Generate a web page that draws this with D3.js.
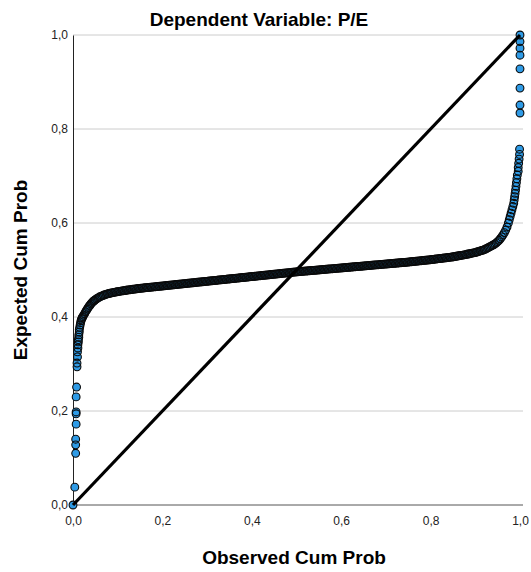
<!DOCTYPE html>
<html>
<head>
<meta charset="utf-8">
<script src="https://cdn.jsdelivr.net/npm/d3@7"></script>
<style>
  body { margin: 0; background: #fff; }
  svg { display: block; font-family: "Liberation Sans", Arial, sans-serif; }
</style>
</head>
<body>
<div id="chart"></div>
<script>
// Normal P-P plot of regression standardized residual
const title = "Dependent Variable: P/E";
const xLabel = "Observed Cum Prob";
const yLabel = "Expected Cum Prob";
const tickValues = [0, 0.2, 0.4, 0.6, 0.8, 1.0];
const tickLabels = ["0,0", "0,2", "0,4", "0,6", "0,8", "1,0"];

// lower tail (sparse dots hugging the left axis, then the knee)
const observedLow = [
  0.000, 0.004, 0.006, 0.006, 0.006, 0.007, 0.007, 0.007, 0.007, 0.008,
  0.009, 0.009, 0.010, 0.010, 0.011, 0.011, 0.012, 0.012, 0.013, 0.013,
  0.014, 0.014, 0.015, 0.016, 0.017, 0.018, 0.019, 0.020, 0.021, 0.022,
  0.024, 0.026, 0.028, 0.030, 0.032, 0.034, 0.036, 0.038, 0.040, 0.042,
  0.044, 0.046, 0.048
];
const expectedLow = [
  0.000, 0.038, 0.110, 0.128, 0.140, 0.172, 0.194, 0.198, 0.230, 0.251,
  0.294, 0.302, 0.315, 0.326, 0.334, 0.341, 0.347, 0.352, 0.357, 0.362,
  0.368, 0.373, 0.378, 0.383, 0.388, 0.392, 0.395, 0.397, 0.399, 0.401,
  0.404, 0.407, 0.411, 0.414, 0.417, 0.420, 0.423, 0.425, 0.428, 0.430,
  0.432, 0.434, 0.435
];

// dense middle band
const observedMid = [
  0.050, 0.053, 0.056, 0.059, 0.062, 0.065, 0.068, 0.071, 0.074, 0.077,
  0.080, 0.083, 0.086, 0.089, 0.092, 0.095, 0.098, 0.101, 0.104, 0.107,
  0.110, 0.113, 0.116, 0.119, 0.122, 0.125, 0.128, 0.131, 0.134, 0.137,
  0.140, 0.143, 0.146, 0.149, 0.152, 0.155, 0.158, 0.161, 0.164, 0.167,
  0.170, 0.173, 0.176, 0.179, 0.182, 0.185, 0.188, 0.191, 0.194, 0.197,
  0.200, 0.203, 0.206, 0.209, 0.212, 0.215, 0.218, 0.221, 0.224, 0.227,
  0.230, 0.233, 0.236, 0.239, 0.242, 0.245, 0.248, 0.251, 0.254, 0.257,
  0.260, 0.263, 0.266, 0.269, 0.272, 0.275, 0.278, 0.281, 0.284, 0.287,
  0.290, 0.293, 0.296, 0.299, 0.302, 0.305, 0.308, 0.311, 0.314, 0.317,
  0.320, 0.323, 0.326, 0.329, 0.332, 0.335, 0.338, 0.341, 0.344, 0.347,
  0.350, 0.353, 0.356, 0.359, 0.362, 0.365, 0.368, 0.371, 0.374, 0.377,
  0.380, 0.383, 0.386, 0.389, 0.392, 0.395, 0.398, 0.401, 0.404, 0.407,
  0.410, 0.413, 0.416, 0.419, 0.422, 0.425, 0.428, 0.431, 0.434, 0.437,
  0.440, 0.443, 0.446, 0.449, 0.452, 0.455, 0.458, 0.461, 0.464, 0.467,
  0.470, 0.473, 0.476, 0.479, 0.482, 0.485, 0.488, 0.491, 0.494, 0.497,
  0.500, 0.503, 0.506, 0.509, 0.512, 0.515, 0.518, 0.521, 0.524, 0.527,
  0.530, 0.533, 0.536, 0.539, 0.542, 0.545, 0.548, 0.551, 0.554, 0.557,
  0.560, 0.563, 0.566, 0.569, 0.572, 0.575, 0.578, 0.581, 0.584, 0.587,
  0.590, 0.593, 0.596, 0.599, 0.602, 0.605, 0.608, 0.611, 0.614, 0.617,
  0.620, 0.623, 0.626, 0.629, 0.632, 0.635, 0.638, 0.641, 0.644, 0.647,
  0.650, 0.653, 0.656, 0.659, 0.662, 0.665, 0.668, 0.671, 0.674, 0.677,
  0.680, 0.683, 0.686, 0.689, 0.692, 0.695, 0.698, 0.701, 0.704, 0.707,
  0.710, 0.713, 0.716, 0.719, 0.722, 0.725, 0.728, 0.731, 0.734, 0.737,
  0.740, 0.743, 0.746, 0.749, 0.752, 0.755, 0.758, 0.761, 0.764, 0.767,
  0.770, 0.773, 0.776, 0.779, 0.782, 0.785, 0.788, 0.791, 0.794, 0.797,
  0.800, 0.803, 0.806, 0.809, 0.812, 0.815, 0.818, 0.821, 0.824, 0.827,
  0.830, 0.833, 0.836, 0.839, 0.842, 0.845, 0.848, 0.851, 0.854, 0.857,
  0.860, 0.863, 0.866, 0.869, 0.872, 0.875, 0.878, 0.881, 0.884, 0.887,
  0.890, 0.893, 0.896, 0.899, 0.902, 0.905, 0.908, 0.911, 0.914, 0.917,
  0.920, 0.923, 0.926, 0.929, 0.932, 0.935, 0.938, 0.941, 0.944, 0.947,
  0.950, 0.953, 0.956, 0.959, 0.962, 0.965, 0.968, 0.971
];
const expectedMid = [
  0.4370, 0.4388, 0.4406, 0.4424, 0.4438, 0.4450, 0.4462, 0.4473, 0.4482, 0.4491,
  0.4500, 0.4506, 0.4512, 0.4518, 0.4524, 0.4530, 0.4536, 0.4540, 0.4545, 0.4550,
  0.4555, 0.4559, 0.4564, 0.4568, 0.4573, 0.4577, 0.4581, 0.4585, 0.4589, 0.4593,
  0.4597, 0.4601, 0.4605, 0.4609, 0.4612, 0.4615, 0.4618, 0.4621, 0.4624, 0.4627,
  0.4630, 0.4633, 0.4636, 0.4639, 0.4642, 0.4645, 0.4648, 0.4651, 0.4654, 0.4657,
  0.4660, 0.4663, 0.4666, 0.4669, 0.4672, 0.4675, 0.4678, 0.4681, 0.4684, 0.4687,
  0.4690, 0.4693, 0.4696, 0.4699, 0.4702, 0.4705, 0.4708, 0.4711, 0.4714, 0.4717,
  0.4720, 0.4723, 0.4726, 0.4729, 0.4732, 0.4735, 0.4738, 0.4741, 0.4744, 0.4747,
  0.4750, 0.4753, 0.4756, 0.4759, 0.4762, 0.4765, 0.4768, 0.4771, 0.4774, 0.4777,
  0.4780, 0.4783, 0.4786, 0.4789, 0.4792, 0.4795, 0.4798, 0.4801, 0.4804, 0.4807,
  0.4810, 0.4813, 0.4816, 0.4819, 0.4822, 0.4825, 0.4828, 0.4831, 0.4834, 0.4837,
  0.4840, 0.4843, 0.4846, 0.4849, 0.4852, 0.4855, 0.4858, 0.4861, 0.4864, 0.4867,
  0.4870, 0.4873, 0.4876, 0.4879, 0.4882, 0.4885, 0.4888, 0.4891, 0.4894, 0.4897,
  0.4900, 0.4903, 0.4906, 0.4909, 0.4912, 0.4915, 0.4918, 0.4921, 0.4924, 0.4927,
  0.4930, 0.4933, 0.4936, 0.4939, 0.4942, 0.4945, 0.4948, 0.4951, 0.4954, 0.4957,
  0.4960, 0.4963, 0.4965, 0.4968, 0.4970, 0.4973, 0.4975, 0.4978, 0.4980, 0.4983,
  0.4985, 0.4988, 0.4990, 0.4993, 0.4995, 0.4998, 0.5000, 0.5003, 0.5005, 0.5008,
  0.5010, 0.5013, 0.5015, 0.5018, 0.5020, 0.5023, 0.5025, 0.5028, 0.5030, 0.5033,
  0.5035, 0.5038, 0.5040, 0.5043, 0.5045, 0.5048, 0.5050, 0.5053, 0.5055, 0.5058,
  0.5060, 0.5063, 0.5065, 0.5068, 0.5070, 0.5073, 0.5075, 0.5078, 0.5080, 0.5083,
  0.5085, 0.5088, 0.5090, 0.5093, 0.5095, 0.5098, 0.5100, 0.5103, 0.5105, 0.5108,
  0.5110, 0.5113, 0.5115, 0.5118, 0.5120, 0.5123, 0.5125, 0.5128, 0.5130, 0.5133,
  0.5135, 0.5138, 0.5140, 0.5143, 0.5145, 0.5148, 0.5150, 0.5153, 0.5155, 0.5158,
  0.5160, 0.5163, 0.5165, 0.5168, 0.5171, 0.5174, 0.5177, 0.5180, 0.5183, 0.5186,
  0.5189, 0.5192, 0.5195, 0.5198, 0.5201, 0.5204, 0.5207, 0.5210, 0.5213, 0.5216,
  0.5219, 0.5223, 0.5226, 0.5230, 0.5233, 0.5237, 0.5241, 0.5244, 0.5248, 0.5251,
  0.5255, 0.5259, 0.5262, 0.5266, 0.5269, 0.5273, 0.5277, 0.5282, 0.5287, 0.5292,
  0.5297, 0.5302, 0.5307, 0.5312, 0.5317, 0.5322, 0.5328, 0.5334, 0.5340, 0.5346,
  0.5352, 0.5358, 0.5364, 0.5370, 0.5378, 0.5387, 0.5396, 0.5405, 0.5414, 0.5423,
  0.5432, 0.5447, 0.5462, 0.5477, 0.5492, 0.5507, 0.5522, 0.5537, 0.5555, 0.5578,
  0.5603, 0.5632, 0.5665, 0.5703, 0.5746, 0.5795, 0.5850, 0.5915
];

// upper tail (sparse dots climbing the right edge)
const observedHigh = [
  0.974, 0.976, 0.978, 0.980, 0.982, 0.984, 0.986, 0.987, 0.988, 0.989,
  0.990, 0.991, 0.992, 0.993, 0.994, 0.996, 0.996, 0.997, 0.998, 0.999,
  0.999, 1.000, 1.000, 1.000, 1.000, 1.000, 1.000, 1.000, 1.000
];
const expectedHigh = [
  0.600, 0.607, 0.614, 0.621, 0.628, 0.635, 0.642, 0.649, 0.656, 0.663,
  0.670, 0.678, 0.686, 0.694, 0.702, 0.710, 0.718, 0.727, 0.736, 0.746,
  0.757, 0.834, 0.851, 0.887, 0.928, 0.957, 0.972, 0.986, 1.000
];

const observed = observedLow.concat(observedMid, observedHigh);
const expected = expectedLow.concat(expectedMid, expectedHigh);

const width = 531, height = 572;
const marginTop = 35, marginRight = 11, marginBottom = 67, marginLeft = 73;

const x = d3.scaleLinear([0, 1], [marginLeft, width - marginRight]);
const y = d3.scaleLinear([0, 1], [height - marginBottom, marginTop]);

const svg = d3.select("#chart").append("svg")
    .attr("width", width)
    .attr("height", height)
    .attr("viewBox", [0, 0, width, height]);

// horizontal grid lines
svg.append("g")
    .attr("stroke", "#cccccc")
    .attr("stroke-width", 1)
  .selectAll("line")
  .data(tickValues.slice(1))
  .join("line")
    .attr("x1", x(0))
    .attr("x2", x(1) + 3)
    .attr("y1", d => y(d))
    .attr("y2", d => y(d));

// axes
const xAxis = d3.axisBottom(x).tickValues(tickValues)
    .tickFormat((d, i) => tickLabels[i]).tickSize(0).tickPadding(11);
const yAxis = d3.axisLeft(y).tickValues(tickValues)
    .tickFormat((d, i) => tickLabels[i]).tickSize(0).tickPadding(5);

svg.append("g")
    .attr("transform", `translate(0,${y(0)})`)
    .call(xAxis)
    .call(g => g.select(".domain").attr("d", `M${x(0)},0H${x(1) + 3}`).attr("stroke", "#555"))
    .call(g => g.selectAll("text").attr("font-size", 12).attr("fill", "#222").attr("font-family", null));

svg.append("g")
    .attr("transform", `translate(${x(0)},0)`)
    .call(yAxis)
    .call(g => g.select(".domain").attr("stroke", "#222"))
    .call(g => g.selectAll("text").attr("font-size", 12).attr("fill", "#222").attr("font-family", null));

// points: fills first, then every outline on top (as SPSS renders markers)
const I = d3.range(observed.length);
svg.append("g")
    .attr("fill", "#2f9be6")
  .selectAll("circle")
  .data(I)
  .join("circle")
    .attr("cx", i => x(observed[i]))
    .attr("cy", i => y(expected[i]))
    .attr("r", 3.9);

svg.append("g")
    .attr("fill", "none")
    .attr("stroke", "#0a0a0a")
    .attr("stroke-width", 1.1)
  .selectAll("circle")
  .data(I)
  .join("circle")
    .attr("cx", i => x(observed[i]))
    .attr("cy", i => y(expected[i]))
    .attr("r", 3.9);

// reference diagonal
svg.append("line")
    .attr("x1", x(0)).attr("y1", y(0))
    .attr("x2", x(1)).attr("y2", y(1))
    .attr("stroke", "#000")
    .attr("stroke-width", 3.2);

svg.append("text")
    .attr("x", 259).attr("y", 19)
    .attr("dy", "0.35em")
    .attr("text-anchor", "middle")
    .attr("font-weight", "bold")
    .attr("font-size", 19)
    .text(title);

svg.append("text")
    .attr("x", 294).attr("y", 557)
    .attr("dy", "0.35em")
    .attr("text-anchor", "middle")
    .attr("font-weight", "bold")
    .attr("font-size", 19)
    .text(xLabel);

svg.append("text")
    .attr("transform", `translate(20,${(y(0) + y(1)) / 2}) rotate(-90)`)
    .attr("dy", "0.35em")
    .attr("text-anchor", "middle")
    .attr("font-weight", "bold")
    .attr("font-size", 19)
    .text(yLabel);
</script>
</body>
</html>
